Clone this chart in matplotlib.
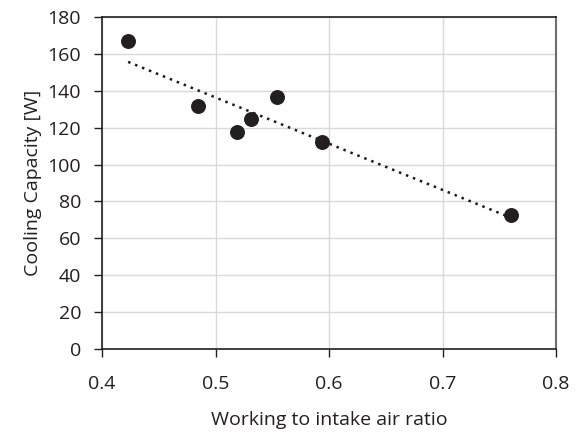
import numpy as np
import matplotlib
matplotlib.use("Agg")
import matplotlib.pyplot as plt

plt.rcParams['font.family'] = ['Open Sans', 'DejaVu Sans']

# measured points
air_ratio = [0.423, 0.485, 0.519, 0.531, 0.554, 0.594, 0.760]
cooling_w = [166.8, 132.0, 117.8, 124.5, 136.7, 112.2, 72.9]

x_ticks = [0.4, 0.5, 0.6, 0.7, 0.8]
y_ticks = [0, 20, 40, 60, 80, 100, 120, 140, 160, 180]

fig = plt.figure(figsize=(5.82, 4.33), dpi=100)
ax = fig.add_axes([102 / 582, 1 - 349 / 433, 454 / 582, 332 / 433])

# linear trendline
k, b = np.polyfit(air_ratio, cooling_w, 1)
xs = np.array([min(air_ratio), max(air_ratio)])
ax.plot(xs, k * xs + b, linestyle=(0, (1, 2)), color='#1a1a1a', linewidth=1.8, zorder=2)

ax.scatter(air_ratio, cooling_w, s=95, color='#231f20', zorder=3)

ax.set_xlim(0.4, 0.8)
ax.set_ylim(0, 180)
ax.set_xticks(x_ticks)
ax.set_yticks(y_ticks)
ax.set_xticklabels([f"{v:.1f}" for v in x_ticks])
ax.grid(True, color='#d9d9d9', linewidth=1)
ax.set_axisbelow(True)

ax.tick_params(direction='out', length=6, width=1, labelsize=14, colors='#231f20')
ax.tick_params(axis='y', pad=9)
ax.tick_params(axis='x', pad=13)
for side in ['left', 'bottom', 'top']:
    ax.spines[side].set_color('#231f20')
    ax.spines[side].set_linewidth(1.2)
ax.spines['right'].set_color('#6d6e70')
ax.spines['right'].set_linewidth(1.5)

ax.set_xlabel("Working to intake air ratio", fontsize=14, color='#231f20', labelpad=13)
ax.set_ylabel("Cooling Capacity [W]", fontsize=14, color='#231f20', labelpad=4)

fig.savefig("out.png", dpi=100)
